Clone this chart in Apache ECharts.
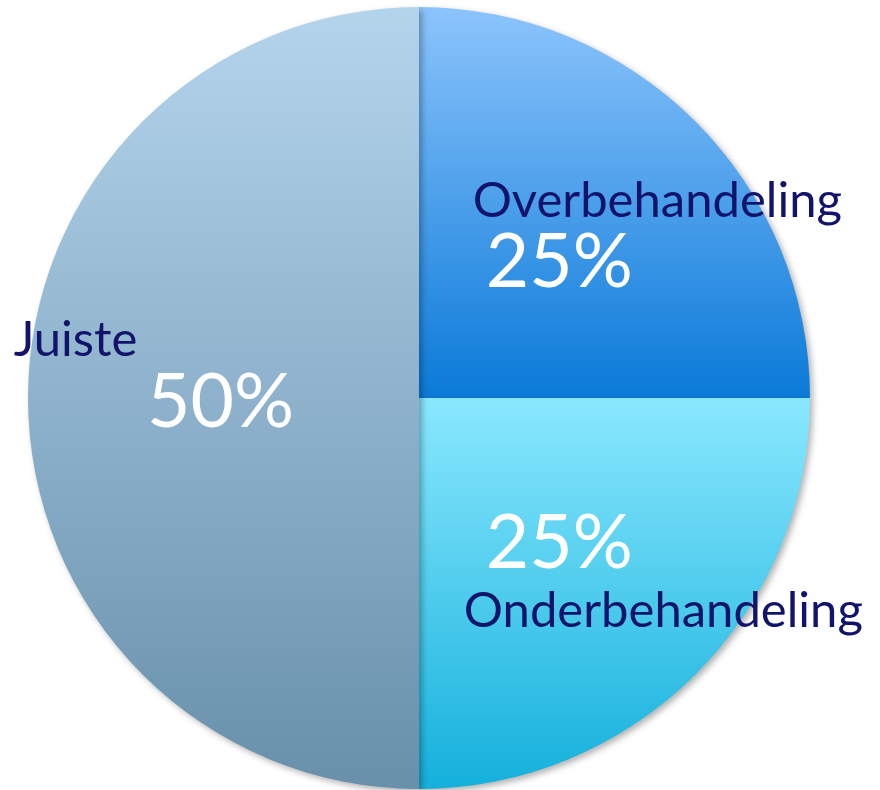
<!DOCTYPE html>
<html>
<head>
<meta charset="utf-8">
<script src="https://cdn.jsdelivr.net/npm/echarts@6/dist/echarts.min.js"></script>
<style>
  html, body { margin: 0; padding: 0; background: #fff; }
  #chart { width: 880px; height: 790px; }
</style>
</head>
<body>
<div id="chart"></div>
<script>
// data
var categories = ['Overbehandeling', 'Onderbehandeling', 'Juiste'];
var shares = [25, 25, 50];
// gradient top / bottom per slice
var topColors = ['#8cc4fc', '#8ae8fe', '#b4d4ec'];
var bottomColors = ['#0a7ad8', '#14b0dc', '#6890ab'];
// name label offsets from the slice centre
var nameOffsets = [[98, -56], [104, 73], [-145, -58]];

var chart = echarts.init(document.getElementById('chart'));

var sliceData = categories.map(function (name, i) {
    return {
        name: name,
        value: shares[i],
        itemStyle: {
            color: new echarts.graphic.LinearGradient(0, 0, 0, 1, [
                { offset: 0, color: topColors[i] },
                { offset: 1, color: bottomColors[i] }
            ])
        }
    };
});

var nameData = categories.map(function (name, i) {
    return { name: name, value: shares[i] };
});

option = {
    animation: false,
    series: [
        {
            type: 'pie',
            center: [419, 398],
            radius: [0, 391],
            startAngle: 90,
            clockwise: true,
            silent: true,
            itemStyle: {
                borderWidth: 0,
                shadowBlur: 6,
                shadowOffsetX: 3,
                shadowOffsetY: 3,
                shadowColor: 'rgba(0,0,0,0.3)'
            },
            label: {
                position: 'inside',
                formatter: '{d}%',
                color: '#ffffff',
                fontFamily: 'Lato',
                fontSize: 75
            },
            labelLayout: { dy: 5 },
            labelLine: { show: false },
            data: sliceData
        },
        {
            type: 'pie',
            center: [419, 398],
            radius: [0, 391],
            startAngle: 90,
            clockwise: true,
            silent: true,
            itemStyle: { color: 'rgba(0,0,0,0)' },
            label: {
                position: 'inside',
                formatter: '{b}',
                color: '#11146a',
                fontFamily: 'Lato',
                fontSize: 49
            },
            labelLayout: function (params) {
                var off = nameOffsets[params.dataIndex];
                return { dx: off[0], dy: off[1] };
            },
            labelLine: { show: false },
            data: nameData
        }
    ]
};

chart.setOption(option);
</script>
</body>
</html>
